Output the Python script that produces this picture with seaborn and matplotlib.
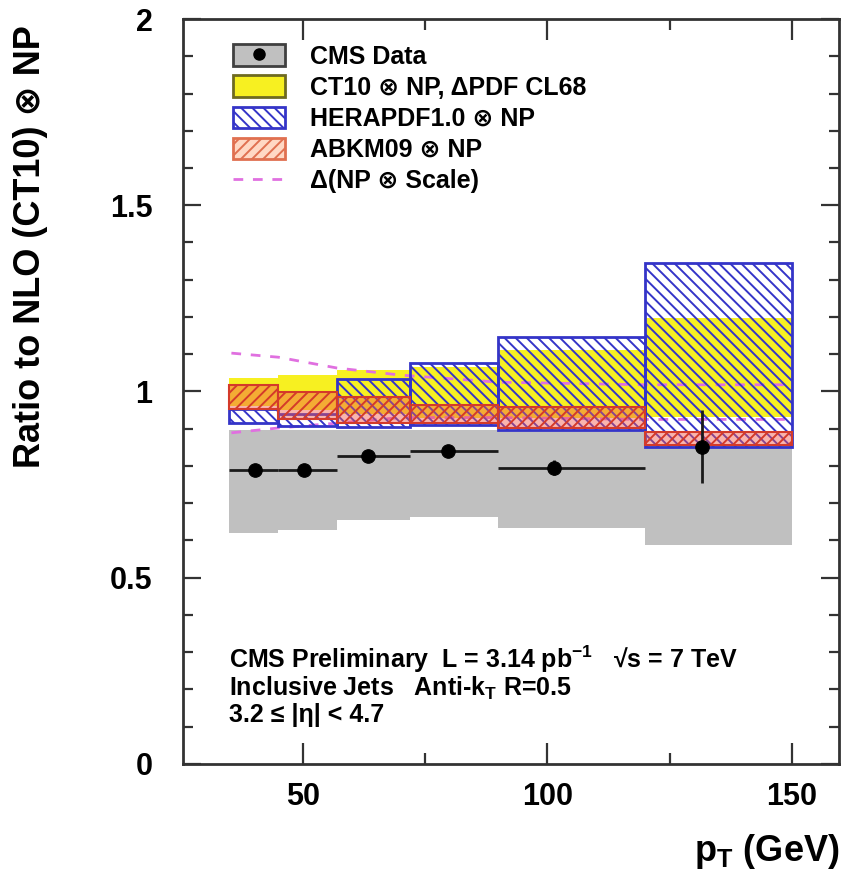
import numpy as np
import matplotlib
matplotlib.use("Agg")
import matplotlib.pyplot as plt
import seaborn as sns
from matplotlib.patches import Patch
from matplotlib.lines import Line2D
from matplotlib.ticker import MultipleLocator

# ---------------- data ----------------
bin_edges = [35, 45, 57, 72, 90, 120, 150]
pt_center = [40.3, 50.3, 63.3, 79.7, 101.4, 131.5]
data_ratio = [0.789, 0.789, 0.828, 0.840, 0.795, 0.851]
stat_err = [0.012, 0.012, 0.012, 0.014, 0.020, 0.098]
show_xerr = [1, 1, 1, 1, 1, 0]
sys_low = [0.620, 0.628, 0.655, 0.663, 0.634, 0.588]
sys_high = [0.897, 0.897, 0.897, 0.897, 0.897, 0.855]
ct10_low = [0.960, 0.950, 0.940, 0.930, 0.930, 0.932]
ct10_high = [1.036, 1.044, 1.058, 1.066, 1.111, 1.197]
hera_low = [0.915, 0.907, 0.905, 0.910, 0.897, 0.851]
hera_high = [0.953, 0.940, 1.034, 1.077, 1.146, 1.345]
abkm_low = [0.953, 0.926, 0.915, 0.915, 0.902, 0.856]
abkm_high = [1.017, 0.999, 0.985, 0.964, 0.958, 0.891]
scale_pt = [35.4, 45, 57, 70, 90, 120, 150]
scale_up = [1.103, 1.092, 1.063, 1.044, 1.025, 1.018, 1.018]
scale_dn = [0.889, 0.902, 0.915, 0.930, 0.930, 0.925, 0.925]

legend_labels = ["CMS Data", "CT10 \u2297 NP, \u0394PDF CL68", "HERAPDF1.0 \u2297 NP",
                 "ABKM09 \u2297 NP", "\u0394(NP \u2297 Scale)"]
info_lines = ["CMS Preliminary  L = 3.14 pb$^{-1}$   \u221as = 7 TeV",
              "Inclusive Jets   Anti-k$_{T}$ R=0.5",
              "3.2 \u2264 |\u03b7| < 4.7"]

# ---------------- style ----------------
sns.set_theme(style="ticks")
plt.rcParams["font.family"] = ["Liberation Sans", "DejaVu Sans"]
plt.rcParams["font.weight"] = "bold"
plt.rcParams["text.color"] = "black"
plt.rcParams["axes.labelcolor"] = "black"
plt.rcParams["xtick.labelcolor"] = "black"
plt.rcParams["ytick.labelcolor"] = "black"
plt.rcParams["mathtext.fontset"] = "custom"
plt.rcParams["mathtext.rm"] = "Liberation Sans:bold"
plt.rcParams["mathtext.it"] = "Liberation Sans:italic:bold"
plt.rcParams["mathtext.bf"] = "Liberation Sans:bold"
plt.rcParams["mathtext.default"] = "rm"
plt.rcParams["hatch.linewidth"] = 1.4

BS = chr(92)
HATCH_HERA = BS * 3
HATCH_ABKM = "///"

GRAY = "#c0c0c0"
YELLOW = "#f7f021"
BLUE = "#3434c8"
RED = "#d43a2a"
PINK = "#e070e0"

fig = plt.figure(figsize=(8.42, 8.72), dpi=100)
ax = fig.add_axes([0.2173, 0.1239, 0.9964 - 0.2173, 0.9782 - 0.1239])

lefts = np.array(bin_edges[:-1], dtype=float)
widths = np.diff(np.array(bin_edges, dtype=float))


def band(lo, hi, **kw):
    lo = np.asarray(lo)
    hi = np.asarray(hi)
    ax.bar(lefts, hi - lo, bottom=lo, width=widths, align="edge", **kw)


band(sys_low, sys_high, color=GRAY, linewidth=0, zorder=1)
band(ct10_low, ct10_high, color=YELLOW, linewidth=0, zorder=2)

sns.lineplot(x=scale_pt, y=scale_up, ax=ax, color=PINK, linewidth=2.0,
             linestyle=(0, (3.5, 3.5)), zorder=3)
sns.lineplot(x=scale_pt, y=scale_dn, ax=ax, color=PINK, linewidth=2.0,
             linestyle=(0, (3.5, 3.5)), zorder=3)

band(hera_low, hera_high, fill=False, hatch=HATCH_HERA, edgecolor=BLUE,
     linewidth=2.0, zorder=4)
band(abkm_low, abkm_high, facecolor=(0.95, 0.35, 0.30, 0.45), hatch=HATCH_ABKM,
     edgecolor=RED, linewidth=1.5, zorder=5)

pc = np.array(pt_center)
sx = np.array(show_xerr)
xlo = (pc - lefts) * sx
xhi = (lefts + widths - pc) * sx
ax.errorbar(pt_center, data_ratio, xerr=[xlo, xhi], yerr=stat_err, fmt="none",
            ecolor="#1a1a1a", elinewidth=2.0, capsize=0, zorder=6)
sns.scatterplot(x=pt_center, y=data_ratio, ax=ax, color="black", s=95,
                edgecolor="black", zorder=7, legend=False)

# ---------------- axes ----------------
ax.set_xlim(25.5, 159.6)
ax.set_ylim(0, 2)
ax.xaxis.set_major_locator(MultipleLocator(50))
ax.xaxis.set_minor_locator(MultipleLocator(25))
ax.yaxis.set_major_locator(MultipleLocator(0.5))
ax.yaxis.set_minor_locator(MultipleLocator(0.1))
ax.set_yticks([0, 0.5, 1, 1.5, 2])
ax.set_yticklabels(["0", "0.5", "1", "1.5", "2"])
for s in ax.spines.values():
    s.set_visible(True)
    s.set_linewidth(2.0)
    s.set_color("#333333")
ax.tick_params(axis="both", which="both", direction="in", top=True, right=True,
               color="#333333", width=1.6, labelcolor="black")
ax.tick_params(axis="x", which="major", length=15, pad=13, labelsize=22)
ax.tick_params(axis="x", which="minor", length=8)
ax.tick_params(axis="y", which="major", length=13, pad=22, labelsize=22)
ax.tick_params(axis="y", which="minor", length=7)
for lab in ax.get_xticklabels() + ax.get_yticklabels():
    lab.set_fontweight("bold")

ax.set_xlabel("p$_{T}$ (GeV)", fontsize=26, fontweight="bold", loc="right",
              color="black")
ax.xaxis.set_label_coords(1.0, -0.092)
ax.set_ylabel("Ratio to NLO (CT10) \u2297 NP", fontsize=26, fontweight="bold",
              loc="top", color="black")
ax.yaxis.set_label_coords(-0.205, 0.992)

# ---------------- legend ----------------
handles = [
    (Patch(facecolor=GRAY, edgecolor="#404040", linewidth=2),
     Line2D([], [], marker="o", color="black", linestyle="none", markersize=8)),
    Patch(facecolor=YELLOW, edgecolor="#6e6a20", linewidth=2),
    Patch(facecolor="white", edgecolor=BLUE, hatch=HATCH_HERA, linewidth=2),
    Patch(facecolor="#ffd8c4", edgecolor="#e07050", hatch=HATCH_ABKM, linewidth=2),
    Line2D([], [], color=PINK, linewidth=2.0, linestyle=(0, (3.5, 3.5))),
]
leg = ax.legend(handles, legend_labels, loc="upper left",
                bbox_to_anchor=(0.076, 0.966), frameon=False, fontsize=18,
                handlelength=2.1, handleheight=0.95, handletextpad=1.0,
                labelspacing=0.27, borderpad=0, borderaxespad=0)
for t in leg.get_texts():
    t.set_fontweight("bold")
    t.set_color("black")

# ---------------- info text ----------------
for yy, line in zip([0.141, 0.102, 0.066], info_lines):
    ax.text(0.070, yy, line, transform=ax.transAxes, fontsize=18,
            fontweight="bold", ha="left", va="center", color="black")

fig.savefig("out.png", dpi=100)
